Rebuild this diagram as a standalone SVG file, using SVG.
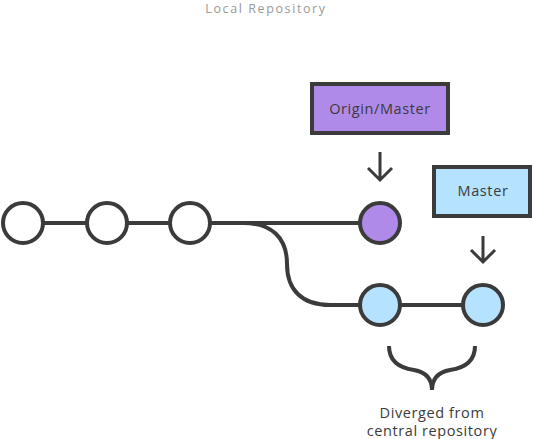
<svg xmlns="http://www.w3.org/2000/svg" width="534" height="439" viewBox="0 0 534 439">
<style>
.ln{fill:none;stroke:#3b3b3b;stroke-width:4;stroke-linecap:butt}
.ar{fill:none;stroke:#3b3b3b;stroke-width:3}
.c{stroke:#3b3b3b;stroke-width:4}
.w{fill:#ffffff}
.p{fill:#b08ae8}
.b{fill:#b5e2ff}
.t{font-family:"Open Sans","Liberation Sans",sans-serif;font-size:14.5px;fill:#3b3b3b;text-anchor:middle;letter-spacing:0.6px}
.h{font-family:"Open Sans","Liberation Sans",sans-serif;font-size:12.5px;fill:#9a9a9a;text-anchor:middle;letter-spacing:1.6px}
</style>
<rect width="534" height="439" fill="#ffffff"/>
<text class="h" x="266" y="13">Local Repository</text>
<g id="connectors">
<path class="ln" d="M43,223 H87"/>
<path class="ln" d="M127,223 H170"/>
<path class="ln" d="M210,223 H360"/>
<path class="ln" d="M243,223 C272,223 287,238 287,264 C287,290 302,305 330,305 H360"/>
<path class="ln" d="M400,305 H463"/>
<path class="ar" d="M380,152 V180 M368,168 L380,180 L392,168"/>
<path class="ar" d="M483,236 V262 M471,250 L483,262 L495,250"/>
<path class="ln" d="M389,346 C389,362 400,368 414,370 C425,372 432,378 432,390 M475,346 C475,362 464,368 450,370 C439,372 432,378 432,390"/>
</g>
<g id="c1"><circle class="c w" cx="23" cy="223" r="20"/></g>
<g id="c2"><circle class="c w" cx="107" cy="223" r="20"/></g>
<g id="c3"><circle class="c w" cx="190" cy="223" r="20"/></g>
<g id="c4"><circle class="c p" cx="380" cy="223" r="20"/></g>
<g id="c5"><circle class="c b" cx="380" cy="305" r="20"/></g>
<g id="c6"><circle class="c b" cx="483" cy="305" r="20"/></g>
<g id="origin"><rect class="c p" x="312" y="84" width="136" height="49"/><text class="t" x="380" y="114">Origin/Master</text></g>
<g id="master"><rect class="c b" x="434" y="167" width="96" height="49"/><text class="t" x="483" y="196">Master</text></g>
<g id="label"><text class="t" x="432" y="418">Diverged from</text><text class="t" x="432" y="436">central repository</text></g>
</svg>
